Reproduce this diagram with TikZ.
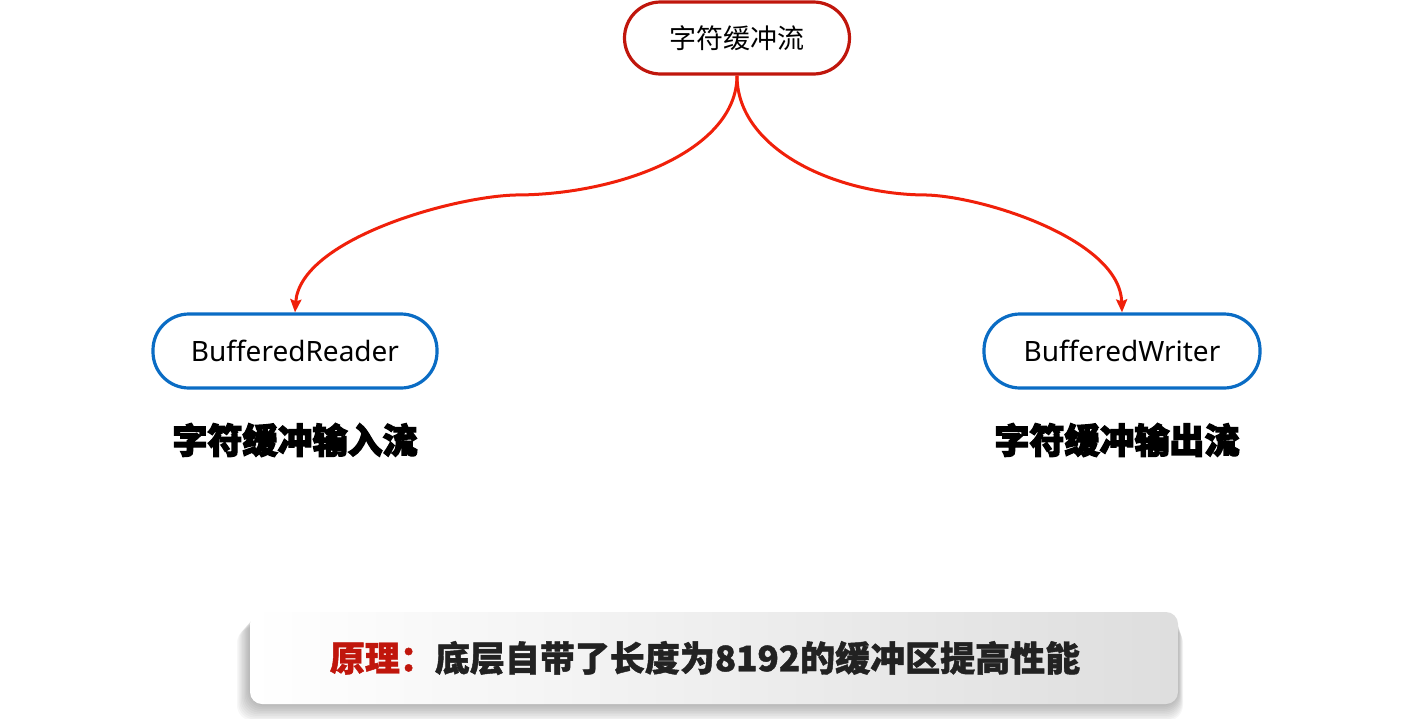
\documentclass[tikz,border=0pt]{standalone}
\usepackage{fontspec}
\setmainfont{Noto Sans}
\newfontfamily\cjk{Noto Sans CJK SC}
\newfontfamily\cjkheavy{Noto Sans CJK SC}[FakeBold=3.5]
\newfontfamily\cjknote{Noto Sans CJK SC}[FakeBold=1.2]
\usetikzlibrary{arrows.meta}
\definecolor{topred}{HTML}{C0160C}
\definecolor{linkred}{HTML}{F0200A}
\definecolor{boxblue}{HTML}{0A6CC4}
\definecolor{txtdark}{HTML}{222222}
\tikzset{
  pill/.style={draw, rounded corners=36pt, line width=3.2pt, fill=white, text=black},
  toppill/.style={pill, draw=topred, minimum width=225pt, minimum height=72pt, font=\cjk\fontsize{27}{32}\selectfont},
  bluepill/.style={pill, draw=boxblue, minimum height=74pt, font=\fontsize{28}{32}\selectfont},
  biglabel/.style={font=\cjkheavy\bfseries\fontsize{35}{40}\selectfont, text=black},
  link/.style={draw=linkred, line width=3pt, -{Stealth[length=13pt,width=11pt,inset=2pt]}},
}
\begin{document}
\begin{tikzpicture}[x=1pt,y=-1pt]
\useasboundingbox (0,0) rectangle (1425,718);
% nodes
\node[toppill] (top) at (737,38) {字符缓冲流};
\node[bluepill, minimum width=284pt] (reader) at (295,351) {BufferedReader};
\node[bluepill, minimum width=276pt] (writer) at (1122,351) {BufferedWriter};
\node[biglabel] (inlab) at (295,440) {字符缓冲输入流};
\node[biglabel] (outlab) at (1117,440) {字符缓冲输出流};
\coordinate (lmid) at (515,195);
\coordinate (rmid) at (927,195);
% connectors
\draw[link] (top.south) .. controls (737,150) and (620,195) .. (lmid)
  .. controls (450,197) and (300,240) .. (reader.north);
\draw[link] (top.south) .. controls (737,150) and (837,195) .. (rmid)
  .. controls (985,197) and (1120,240) .. (writer.north);
% bottom box with shadow
\foreach \i in {1,...,10}{
  \fill[black, opacity=0.03, rounded corners=16pt]
    (250-\i*1.3,612+\i*1.5) rectangle (1178+\i*0.5,704+\i*1.7);
}
\shade[left color=white, right color=black!13, rounded corners=12pt]
  (250,612) rectangle (1178,704);
\node[font=\cjknote\bfseries\fontsize{35}{40}\selectfont, text=txtdark] (note) at (705,658)
  {\textcolor{topred}{原理：}底层自带了长度为8192的缓冲区提高性能};
\end{tikzpicture}
\end{document}
